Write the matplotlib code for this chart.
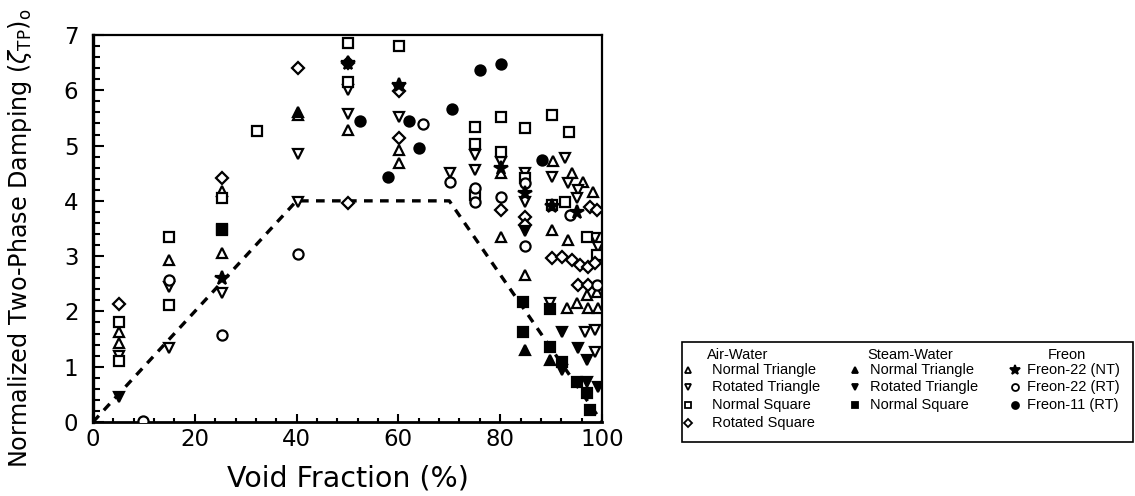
import matplotlib
matplotlib.use("Agg")
import matplotlib.pyplot as plt
from matplotlib.ticker import MultipleLocator
from matplotlib.patches import Rectangle

plt.rcParams['font.family'] = ['DejaVu Sans']
plt.rcParams['mathtext.fontset'] = 'dejavusans'

# ---------------- data (void fraction %, normalized damping) ----------------
aw_nt_x = [5.1, 5.1, 14.9, 25.3, 25.3, 40.3, 50.1, 60.1, 60.1, 80.2, 80.2, 84.9, 90.4, 94.1, 96.3,
           98.2, 90.2, 93.3, 97.0, 99.0, 93.1, 95.1, 97.2, 99.2]
aw_nt_y = [1.63, 1.43, 2.93, 4.17, 3.05, 5.55, 5.28, 4.92, 4.68, 4.50, 3.34, 2.66, 4.72, 4.50, 4.34,
           4.16, 3.47, 3.29, 2.30, 2.35, 2.06, 2.15, 2.06, 2.06]

aw_rt_x = [5.1, 14.9, 14.9, 25.3, 40.3, 40.3, 50.1, 50.1, 60.1, 60.1, 70.1, 75.1, 75.1, 80.2, 84.9,
           84.9, 92.7, 90.2, 93.3, 95.3, 95.0, 98.6, 99.2, 96.7, 98.6, 98.6, 89.8]
aw_rt_y = [1.20, 2.45, 1.34, 2.33, 4.85, 3.98, 6.00, 5.58, 5.52, 6.00, 4.50, 4.83, 4.56, 4.70, 4.50,
           3.98, 4.77, 4.43, 4.32, 4.20, 4.05, 3.33, 3.17, 1.63, 1.66, 1.27, 2.15]

aw_ns_x = [5.1, 5.1, 14.9, 14.9, 25.3, 25.3, 32.2, 50.1, 50.1, 60.1, 75.1, 75.1, 80.2, 80.2, 84.9,
           84.9, 90.2, 93.5, 92.7, 97.0, 99.0, 90.2, 75.1]
aw_ns_y = [1.81, 1.10, 3.35, 2.11, 4.05, 3.50, 5.26, 6.85, 6.15, 6.80, 5.33, 5.03, 5.51, 4.88, 5.31,
           4.41, 5.55, 5.25, 3.98, 3.35, 3.02, 3.92, 4.10]

aw_rs_x = [5.1, 25.3, 40.3, 50.1, 50.1, 60.1, 60.1, 80.2, 84.9, 84.9, 97.6, 99.0, 90.2, 92.1, 94.1,
           95.7, 97.2, 98.6, 95.3, 97.2]
aw_rs_y = [2.13, 4.41, 6.40, 3.97, 6.50, 5.13, 5.98, 3.83, 3.71, 3.56, 3.89, 3.83, 2.97, 2.98, 2.93,
           2.84, 2.80, 2.87, 2.48, 2.48]

sw_nt_x = [40.3, 84.9, 89.8]
sw_nt_y = [5.60, 1.30, 1.12]

sw_rt_x = [5.1, 92.1, 95.3, 97.0, 92.1, 97.0, 99.2, 84.9]
sw_rt_y = [0.45, 1.63, 1.34, 1.12, 0.94, 0.72, 0.63, 3.45]

sw_ns_x = [25.3, 84.5, 84.5, 89.8, 89.8, 92.1, 95.1, 97.0, 97.6]
sw_ns_y = [3.47, 2.17, 1.63, 1.36, 2.05, 1.08, 0.72, 0.52, 0.22]

f22_nt_x = [25.3, 50.1, 60.1, 80.2, 84.9, 90.2, 95.1]
f22_nt_y = [2.60, 6.50, 6.10, 4.60, 4.14, 3.90, 3.80]

f22_rt_x = [9.8, 14.9, 25.3, 40.3, 64.8, 70.1, 75.1, 75.1, 80.2, 84.9, 84.9, 93.7, 99.0]
f22_rt_y = [0.02, 2.57, 1.57, 3.04, 5.39, 4.35, 4.23, 3.98, 4.07, 3.18, 4.32, 3.74, 2.48]

f11_rt_x = [52.5, 62.1, 64.1, 58.0, 70.5, 76.0, 80.2, 88.2]
f11_rt_y = [5.44, 5.44, 4.95, 4.43, 5.66, 6.37, 6.47, 4.74]

# design guideline (dashed)
guide_x = [0, 40, 70, 100]
guide_y = [0, 4, 4, 0]

x_ticks = [0, 20, 40, 60, 80, 100]
y_ticks = [0, 1, 2, 3, 4, 5, 6, 7]

# ---------------- figure ----------------
W, H = 1135, 496
fig = plt.figure(figsize=(W / 100, H / 100), dpi=100)
ax = fig.add_axes([93 / W, 1 - 422 / H, (602 - 93) / W, (422 - 35) / H])

ax.plot(guide_x, guide_y, color='black', lw=2.4, linestyle=(0, (2.6, 2.2)), zorder=2)

ms = 7.3
mew = 1.6
styles = [
    (aw_nt_x, aw_nt_y, '^', 'white'),
    (aw_rt_x, aw_rt_y, 'v', 'white'),
    (aw_ns_x, aw_ns_y, 's', 'white'),
    (aw_rs_x, aw_rs_y, 'D', 'white'),
    (f22_rt_x, f22_rt_y, 'o', 'white'),
    (sw_nt_x, sw_nt_y, '^', 'black'),
    (sw_rt_x, sw_rt_y, 'v', 'black'),
    (sw_ns_x, sw_ns_y, 's', 'black'),
    (f22_nt_x, f22_nt_y, '*', 'black'),
    (f11_rt_x, f11_rt_y, 'o', 'black'),
]
for xs, ys, m, fc in styles:
    size = ms * (1.35 if m == '*' else (0.85 if m == 'D' else 1.0))
    ax.plot(xs, ys, linestyle='none', marker=m, markersize=size, markerfacecolor=fc,
            markeredgecolor='black', markeredgewidth=mew, zorder=3)

ax.set_xlim(0, 100)
ax.set_ylim(0, 7)
ax.set_xticks(x_ticks)
ax.set_yticks(y_ticks)
ax.xaxis.set_minor_locator(MultipleLocator(4))
ax.yaxis.set_minor_locator(MultipleLocator(0.2))
ax.tick_params(axis='both', which='both', direction='in', top=False, right=False,
               labelsize=16.5, width=1.5, colors='black')
ax.tick_params(axis='y', which='major', length=8, pad=10.5)
ax.tick_params(axis='y', which='minor', length=5)
ax.tick_params(axis='x', which='major', length=6, pad=4)
ax.tick_params(axis='x', which='minor', length=3)
ax.spines['left'].set_linewidth(2.4)
ax.spines['bottom'].set_linewidth(2.0)
ax.spines['top'].set_linewidth(1.6)
ax.spines['right'].set_linewidth(1.6)
ax.set_xlabel('Void Fraction (%)', fontsize=20.5)
ax.xaxis.set_label_coords(0.5, (422 - 465) / 387)
ax.set_ylabel(r'Normalized Two-Phase Damping $(\zeta_{\mathrm{TP}})_{\mathrm{o}}$', fontsize=17.2)
ax.yaxis.set_label_coords((34 - 93) / 509, 0.475)

# ---------------- legend (drawn manually) ----------------
lax = fig.add_axes([682 / W, 1 - 442 / H, (1133 - 682) / W, (442 - 342) / H])
lax.set_xlim(682, 1133)
lax.set_ylim(442, 342)
lax.axis('off')
lax.add_patch(Rectangle((682, 342), 451, 100, fill=False, edgecolor='black', lw=1.2,
                        clip_on=False))

leg_font = ['Liberation Sans', 'DejaVu Sans']
headers = [('Air-Water', 738), ('Steam-Water', 910), ('Freon', 1067)]
for t, xc in headers:
    lax.text(xc, 355, t, ha='center', va='center', fontsize=10.5, family=leg_font)

row_y = [370, 387, 405, 423]
cols = [
    (688, 712, [('^', 'white', 'Normal Triangle'), ('v', 'white', 'Rotated Triangle'),
                ('s', 'white', 'Normal Square'), ('D', 'white', 'Rotated Square')]),
    (855, 870, [('^', 'black', 'Normal Triangle'), ('v', 'black', 'Rotated Triangle'),
                ('s', 'black', 'Normal Square')]),
    (1015, 1027, [('*', 'black', 'Freon-22 (NT)'), ('o', 'white', 'Freon-22 (RT)'),
                  ('o', 'black', 'Freon-11 (RT)')]),
]
for xm, xt, entries in cols:
    for (m, fc, lab), yy in zip(entries, row_y):
        size = 5 * (1.4 if m == '*' else (0.85 if m == 'D' else 1.0))
        lax.plot([xm], [yy], marker=m, markersize=size, markerfacecolor=fc,
                 markeredgecolor='black', markeredgewidth=1.3, linestyle='none', clip_on=False)
        lax.text(xt, yy, lab, ha='left', va='center', fontsize=10.5, family=leg_font)

fig.savefig('out.png', dpi=100)
